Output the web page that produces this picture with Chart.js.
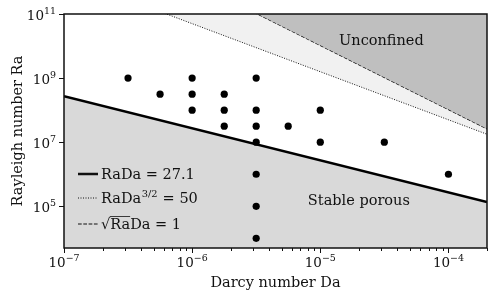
<!DOCTYPE html>
<html>
<head>
<meta charset="utf-8">
<script src="https://cdn.jsdelivr.net/npm/chart.js@4.4.1/dist/chart.umd.min.js"></script>
<style>
  html, body { margin: 0; background: #fff; }
  #wrap { width: 499px; height: 300px; }
</style>
</head>
<body>
<div id="wrap"><canvas id="regimeChart"></canvas></div>
<script>
// axis limits
const daLimits = [1e-7, 2e-4];
const raLimits = [5e3, 1e11];
const xMajorTicks = [1e-7, 1e-6, 1e-5, 1e-4];
const xTickExp = ["\u22127", "\u22126", "\u22125", "\u22124"];
const yMajorTicks = [1e5, 1e7, 1e9, 1e11];
const yTickExp = ["5", "7", "9", "11"];

// simulations (dots)
const simDa = [3.16e-7, 5.62e-7, 1e-6, 1e-6, 1e-6, 1.78e-6, 1.78e-6, 1.78e-6,
  3.16e-6, 3.16e-6, 3.16e-6, 3.16e-6, 3.16e-6, 3.16e-6, 3.16e-6,
  5.62e-6, 1e-5, 1e-5, 3.16e-5, 1e-4];
const simRa = [1e9, 3.16e8, 1e9, 3.16e8, 1e8, 3.16e8, 1e8, 3.16e7,
  1e9, 1e8, 3.16e7, 1e7, 1e6, 1e5, 1e4,
  3.16e7, 1e8, 1e7, 1e7, 1e6];

// regime boundaries, end points at the x limits
const boundaryDa = [1e-7, 2e-4];
const raDaLine = [2.71e8, 1.355e5];      // RaDa = 27.1
const raDa32Line = [1.581e12, 1.768e7];  // RaDa^{3/2} = 50
const sqrtRaDaLine = [1e14, 2.5e7];      // sqrt(Ra)Da = 1

const serif = '"DejaVu Serif", "Liberation Serif", serif';
const textSize = 14.5;
const tickSize = 13.5;

function toPoints(xs, ys) {
  return xs.map((x, i) => ({ x: x, y: ys[i] }));
}

// draws "10" with a superscript exponent, anchored by align
function drawPower(ctx, exp, x, y, align, size) {
  ctx.font = `${size}px ${serif}`;
  const baseW = ctx.measureText("10").width;
  ctx.font = `${size * 0.7}px ${serif}`;
  const expW = ctx.measureText(exp).width;
  const total = baseW + expW;
  let left = x;
  if (align === "center") left = x - total / 2;
  if (align === "right") left = x - total;
  ctx.textAlign = "left";
  ctx.textBaseline = "alphabetic";
  ctx.font = `${size}px ${serif}`;
  ctx.fillText("10", left, y);
  ctx.font = `${size * 0.7}px ${serif}`;
  ctx.fillText(exp, left + baseW, y - size * 0.42);
}

const decorPlugin = {
  id: "decor",
  afterDraw(chart) {
    const { ctx, chartArea: area, scales } = chart;
    const xs = scales.x;
    const ys = scales.y;
    ctx.save();
    ctx.fillStyle = "#111";
    ctx.strokeStyle = "#111";

    // frame
    ctx.lineWidth = 1.5;
    ctx.strokeRect(area.left, area.top, area.right - area.left, area.bottom - area.top);

    // x ticks
    ctx.lineWidth = 1;
    for (let e = -7; e <= -4; e++) {
      for (let m = 1; m <= 9; m++) {
        const v = m * Math.pow(10, e);
        if (v < daLimits[0] || v > daLimits[1]) continue;
        const px = Math.round(xs.getPixelForValue(v)) + 0.5;
        ctx.beginPath();
        ctx.moveTo(px, area.bottom);
        ctx.lineTo(px, area.bottom + (m === 1 ? 5 : 3));
        ctx.stroke();
      }
    }
    xMajorTicks.forEach((v, i) => {
      drawPower(ctx, xTickExp[i], xs.getPixelForValue(v), area.bottom + 19, "center", tickSize);
    });

    // y ticks
    yMajorTicks.forEach((v, i) => {
      const py = Math.round(ys.getPixelForValue(v)) + 0.5;
      ctx.beginPath();
      ctx.moveTo(area.left, py);
      ctx.lineTo(area.left - 5, py);
      ctx.stroke();
      drawPower(ctx, yTickExp[i], area.left - 8, py + 5, "right", tickSize);
    });

    // axis titles
    ctx.font = `${textSize}px ${serif}`;
    ctx.textAlign = "center";
    ctx.textBaseline = "alphabetic";
    ctx.fillText("Darcy number Da", (area.left + area.right) / 2, area.bottom + 39);
    ctx.save();
    ctx.translate(22, (area.top + area.bottom) / 2);
    ctx.rotate(-Math.PI / 2);
    ctx.fillText("Rayleigh number Ra", 0, 0);
    ctx.restore();

    // region labels
    ctx.textBaseline = "middle";
    ctx.fillText("Unconfined", xs.getPixelForValue(3e-5), ys.getPixelForValue(1.45e10));
    ctx.fillText("Stable porous", xs.getPixelForValue(2e-5), ys.getPixelForValue(1.45e5));

    // legend
    const lx = area.left + 14;
    const tx = area.left + 37;
    const rows = [area.bottom - 74, area.bottom - 50, area.bottom - 24];
    ctx.textAlign = "left";
    ctx.textBaseline = "alphabetic";

    ctx.lineWidth = 2.5;
    ctx.setLineDash([]);
    ctx.beginPath();
    ctx.moveTo(lx, rows[0]);
    ctx.lineTo(lx + 20, rows[0]);
    ctx.stroke();

    ctx.lineWidth = 1;
    ctx.setLineDash([1, 1.5]);
    ctx.beginPath();
    ctx.moveTo(lx, rows[1]);
    ctx.lineTo(lx + 20, rows[1]);
    ctx.stroke();

    ctx.lineWidth = 1.2;
    ctx.setLineDash([3.7, 1.6]);
    ctx.beginPath();
    ctx.moveTo(lx, rows[2]);
    ctx.lineTo(lx + 20, rows[2]);
    ctx.stroke();
    ctx.setLineDash([]);

    ctx.font = `${textSize}px ${serif}`;
    ctx.fillText("RaDa = 27.1", tx, rows[0] + 5);

    const w1 = ctx.measureText("RaDa").width;
    ctx.fillText("RaDa", tx, rows[1] + 5);
    ctx.font = `${textSize * 0.68}px ${serif}`;
    ctx.fillText("3/2", tx + w1 + 0.5, rows[1] - 1);
    const w2 = ctx.measureText("3/2").width;
    ctx.font = `${textSize}px ${serif}`;
    ctx.fillText(" = 50", tx + w1 + w2 + 1, rows[1] + 5);

    const wSq = ctx.measureText("\u221A").width;
    const wRa = ctx.measureText("Ra").width;
    ctx.fillText("\u221A", tx, rows[2] + 5);
    ctx.fillText("RaDa = 1", tx + wSq, rows[2] + 5);
    ctx.lineWidth = 0.8;
    ctx.beginPath();
    ctx.moveTo(tx + wSq - 0.5, rows[2] - 7.5);
    ctx.lineTo(tx + wSq + wRa, rows[2] - 7.5);
    ctx.stroke();

    ctx.restore();
  },
};

const ctx = document.getElementById("regimeChart").getContext("2d");

const regimeChart = new Chart(ctx, {
  type: "scatter",
  data: {
    datasets: [
      {
        // 0: simulations, drawn last so they sit on top of the fills
        data: toPoints(simDa, simRa),
        showLine: false,
        pointRadius: 3.6,
        pointBackgroundColor: "#000",
        pointBorderWidth: 0,
      },
      {
        // 1: RaDa = 27.1, stable porous region below
        data: toPoints(boundaryDa, raDaLine),
        showLine: true,
        borderColor: "#000",
        borderWidth: 2.5,
        pointRadius: 0,
        fill: "start",
        backgroundColor: "#d9d9d9",
      },
      {
        // 2: RaDa^{3/2} = 50
        data: toPoints(boundaryDa, raDa32Line),
        showLine: true,
        borderColor: "#111",
        borderWidth: 1,
        borderDash: [1, 1.5],
        pointRadius: 0,
        fill: 3,
        backgroundColor: "#f1f1f1",
      },
      {
        // 3: sqrt(Ra)Da = 1, unconfined region above
        data: toPoints(boundaryDa, sqrtRaDaLine),
        showLine: true,
        borderColor: "#000",
        borderWidth: 1.2,
        borderDash: [3.7, 1.6],
        pointRadius: 0,
        fill: "end",
        backgroundColor: "#bfbfbf",
      },
    ],
  },
  options: {
    responsive: true,
    maintainAspectRatio: false,
    animation: false,
    layout: {
      padding: { left: 64, right: 12, top: 14, bottom: 52 },
    },
    plugins: {
      legend: { display: false },
      tooltip: { enabled: false },
    },
    scales: {
      x: {
        type: "logarithmic",
        min: daLimits[0],
        max: daLimits[1],
        grid: { display: false, drawTicks: false },
        border: { display: false },
        ticks: { display: false },
        afterFit(scale) { scale.height = 0; },
      },
      y: {
        type: "logarithmic",
        min: raLimits[0],
        max: raLimits[1],
        grid: { display: false, drawTicks: false },
        border: { display: false },
        ticks: { display: false },
        afterFit(scale) { scale.width = 0; },
      },
    },
  },
  plugins: [decorPlugin],
});
</script>
</body>
</html>
